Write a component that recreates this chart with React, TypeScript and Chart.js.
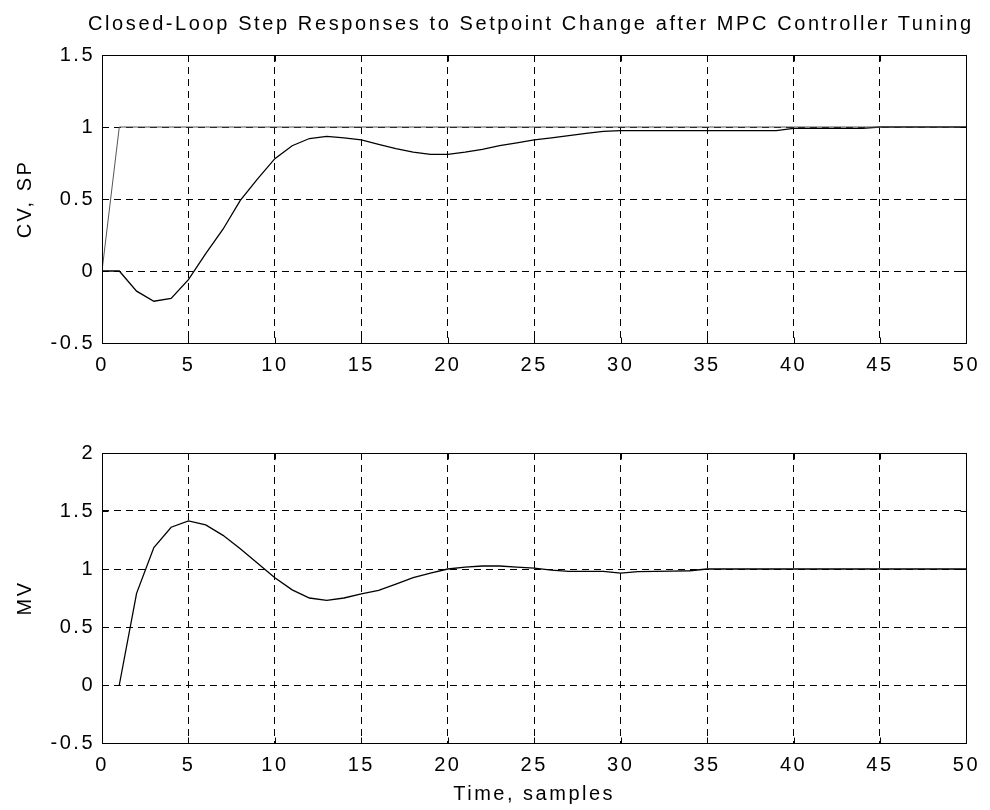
import React, { useEffect, useRef } from 'react';
import { Chart, registerables } from 'chart.js';

Chart.register(...registerables);

const FONT = 'Liberation Sans';

const titleText = 'Closed-Loop Step Responses to Setpoint Change after MPC Controller Tuning';
const cvLabel = 'CV, SP';
const mvLabel = 'MV';
const xLabel = 'Time, samples';

const timeCV = [0, 1, 2, 3, 4, 5, 6, 7, 8, 9, 10, 11, 12, 13, 14, 15, 16, 17, 18, 19, 20, 21, 22, 23, 24, 25, 26, 27, 28, 29, 30, 31, 32, 33, 34, 35, 36, 37, 38, 39, 40, 41, 42, 43, 44, 45, 46, 47, 48, 49, 50];
const cvValues = [0, 0, -0.14, -0.21, -0.19, -0.06, 0.12, 0.29, 0.49, 0.64, 0.78, 0.87, 0.92, 0.935, 0.925, 0.91, 0.88, 0.85, 0.825, 0.81, 0.81, 0.825, 0.845, 0.87, 0.89, 0.91, 0.925, 0.94, 0.955, 0.97, 0.975, 0.975, 0.975, 0.975, 0.975, 0.975, 0.975, 0.975, 0.975, 0.975, 0.99, 0.99, 0.99, 0.99, 0.99, 1, 1, 1, 1, 1, 1];
const spValues = [0, 1, 1, 1, 1, 1, 1, 1, 1, 1, 1, 1, 1, 1, 1, 1, 1, 1, 1, 1, 1, 1, 1, 1, 1, 1, 1, 1, 1, 1, 1, 1, 1, 1, 1, 1, 1, 1, 1, 1, 1, 1, 1, 1, 1, 1, 1, 1, 1, 1, 1];

const timeMV = [1, 2, 3, 4, 5, 6, 7, 8, 9, 10, 11, 12, 13, 14, 15, 16, 17, 18, 19, 20, 21, 22, 23, 24, 25, 26, 27, 28, 29, 30, 31, 32, 33, 34, 35, 36, 37, 38, 39, 40, 41, 42, 43, 44, 45, 46, 47, 48, 49, 50];
const mvValues = [0, 0.79, 1.185, 1.36, 1.415, 1.38, 1.29, 1.175, 1.05, 0.925, 0.82, 0.75, 0.73, 0.75, 0.785, 0.815, 0.87, 0.925, 0.965, 1.0, 1.017, 1.026, 1.026, 1.017, 1.008, 0.99, 0.98, 0.98, 0.98, 0.965, 0.978, 0.98, 0.982, 0.985, 1, 1, 1, 1, 1, 1, 1, 1, 1, 1, 1, 1, 1, 1, 1, 1];

const xTicks = [0, 5, 10, 15, 20, 25, 30, 35, 40, 45, 50];
const cvTicks = [-0.5, 0, 0.5, 1, 1.5];
const mvTicks = [-0.5, 0, 0.5, 1, 1.5, 2];

const SPACING = '2.5px';

const framePlugin = {
  id: 'matlabFrame',
  beforeLayout(chart: any) {
    chart.ctx.letterSpacing = SPACING;
  },
  beforeDraw(chart: any) {
    chart.ctx.letterSpacing = SPACING;
  },
  afterDraw(chart: any) {
    const { ctx, chartArea } = chart;
    const { left, top, right, bottom } = chartArea;
    const x = chart.scales.x;
    const y = chart.scales.y;
    const L = Math.round(left) + 0.5;
    const T = Math.round(top) + 0.5;
    const R = Math.round(right) + 0.5;
    const B = Math.round(bottom) + 0.5;
    ctx.save();
    ctx.setLineDash([]);
    ctx.strokeStyle = '#000';
    ctx.lineWidth = 1;
    ctx.beginPath();
    ctx.rect(L, T, R - L, B - T);
    const len = 6;
    x.ticks.forEach((t: any) => {
      const px = Math.round(x.getPixelForValue(t.value)) + 0.5;
      ctx.moveTo(px, B);
      ctx.lineTo(px, B - len);
      ctx.moveTo(px, T);
      ctx.lineTo(px, T + len);
    });
    y.ticks.forEach((t: any) => {
      const py = Math.round(y.getPixelForValue(t.value)) + 0.5;
      ctx.moveTo(L, py);
      ctx.lineTo(L + len, py);
      ctx.moveTo(R, py);
      ctx.lineTo(R - len, py);
    });
    ctx.stroke();
    ctx.restore();
  },
};

function makeOptions(yTicks: number[], yLabel: string, xTitle: string | null, xHeight: number, padTop: number) {
  return {
    animation: false as const,
    responsive: false,
    maintainAspectRatio: false,
    layout: { padding: { top: padTop, right: 18, left: 0, bottom: 0 } },
    plugins: {
      legend: { display: false },
      tooltip: { enabled: false },
      title: { display: false },
    },
    elements: { point: { radius: 0 }, line: { tension: 0 } },
    scales: {
      x: {
        type: 'linear' as const,
        min: xTicks[0],
        max: xTicks[xTicks.length - 1],
        afterBuildTicks: (s: any) => {
          s.ticks = xTicks.map((v) => ({ value: v }));
        },
        afterFit: (s: any) => {
          s.height = xHeight;
        },
        grid: { color: '#000', lineWidth: 1, drawTicks: false },
        border: { display: false, dash: [7, 5] },
        ticks: {
          autoSkip: false,
          maxRotation: 0,
          padding: 10,
          color: '#000',
          font: { family: FONT, size: 20 },
          callback: (v: any) => String(v),
        },
        title: xTitle
          ? {
              display: true,
              text: xTitle,
              color: '#000',
              font: { family: FONT, size: 20 },
              padding: { top: 2, bottom: 4 },
            }
          : { display: false },
      },
      y: {
        type: 'linear' as const,
        min: yTicks[0],
        max: yTicks[yTicks.length - 1],
        afterBuildTicks: (s: any) => {
          s.ticks = yTicks.map((v) => ({ value: v }));
        },
        afterFit: (s: any) => {
          s.width = 102;
        },
        grid: { color: '#000', lineWidth: 1, drawTicks: false },
        border: { display: false, dash: [7, 5] },
        ticks: {
          padding: 7,
          color: '#000',
          font: { family: FONT, size: 20 },
          callback: (v: any) => String(v),
        },
        title: {
          display: true,
          text: yLabel,
          color: '#000',
          font: { family: FONT, size: 20 },
          padding: { top: 13, bottom: 0 },
        },
      },
    },
  };
}

function TopChart() {
  const ref = useRef<HTMLCanvasElement>(null);
  useEffect(() => {
    if (!ref.current) return;
    const chart = new Chart(ref.current, {
      type: 'line',
      data: {
        datasets: [
          {
            label: 'SP',
            data: timeCV.map((t, i) => ({ x: t, y: spValues[i] })),
            borderColor: '#555',
            borderWidth: 1,
            pointRadius: 0,
          },
          {
            label: 'CV',
            data: timeCV.map((t, i) => ({ x: t, y: cvValues[i] })),
            borderColor: '#000',
            borderWidth: 1.3,
            pointRadius: 0,
          },
        ],
      },
      options: makeOptions(cvTicks, cvLabel, null, 47, 55) as any,
      plugins: [framePlugin],
    });
    return () => chart.destroy();
  }, []);
  return <canvas ref={ref} width={990} height={390} style={{ position: 'absolute', left: 0, top: 0, width: 990, height: 390 }} />;
}

function BottomChart() {
  const ref = useRef<HTMLCanvasElement>(null);
  useEffect(() => {
    if (!ref.current) return;
    const chart = new Chart(ref.current, {
      type: 'line',
      data: {
        datasets: [
          {
            label: 'MV',
            data: timeMV.map((t, i) => ({ x: t, y: mvValues[i] })),
            borderColor: '#000',
            borderWidth: 1.3,
            pointRadius: 0,
          },
        ],
      },
      options: makeOptions(mvTicks, mvLabel, xLabel, 67, 53) as any,
      plugins: [framePlugin],
    });
    return () => chart.destroy();
  }, []);
  return <canvas ref={ref} width={990} height={410} style={{ position: 'absolute', left: 0, top: 400, width: 990, height: 410 }} />;
}

export default function App() {
  return (
    <div style={{ position: 'absolute', left: 0, top: 0, width: 990, height: 810, background: '#fff', overflow: 'hidden' }}>
      <TopChart />
      <BottomChart />
      <div
        style={{
          position: 'absolute',
          left: 88,
          top: 13,
          whiteSpace: 'nowrap',
          fontFamily: FONT,
          fontSize: 20,
          lineHeight: '20px',
          letterSpacing: '2.6px',
          color: '#000',
        }}
      >
        {titleText}
      </div>
    </div>
  );
}
